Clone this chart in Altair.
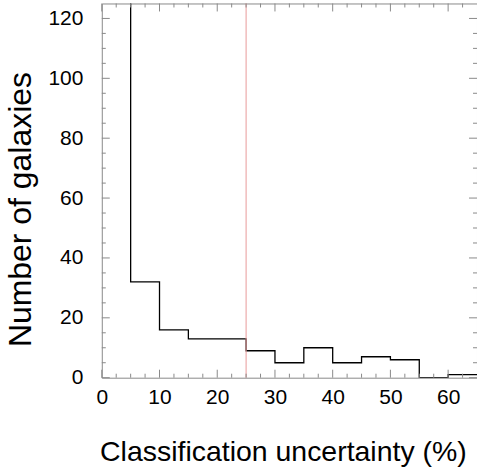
import altair as alt
import pandas as pd

# Histogram bin edges and counts (first bin runs off the top of the plot)
bin_edges = [0, 5, 10, 15, 20, 25, 30, 35, 40, 45, 50, 55, 60, 65]
counts = [400, 32, 16, 13, 13, 9, 5, 10, 5, 7, 6, 0, 1]
cut_value = [25]

x_major = [0, 10, 20, 30, 40, 50, 60]
x_minor = [2.5, 5, 7.5, 12.5, 15, 17.5, 22.5, 25, 27.5, 32.5, 35, 37.5,
           42.5, 45, 47.5, 52.5, 55, 57.5, 62.5]
y_major = [0, 20, 40, 60, 80, 100, 120]
y_minor = [5, 10, 15, 25, 30, 35, 45, 50, 55, 65, 70, 75, 85, 90, 95,
           105, 110, 115]

W, H = 376, 375
FONT = "Liberation Sans"
FRAME = "#8a8a8a"

step_df = pd.DataFrame({"x": bin_edges, "y": counts + [counts[-1]]})

xs = alt.Scale(domain=[0, 65], nice=False, zero=False)
ys = alt.Scale(domain=[0, 125], nice=False, zero=False)

x_axis = alt.Axis(values=x_major, grid=False, ticks=False, tickSize=0, domain=False,
                  labelFont=FONT, labelFontSize=21, labelColor="black",
                  labelPadding=9, labelFlush=False, labelAngle=0,
                  title="Classification uncertainty (%)", titleFont=FONT,
                  titleFontSize=28.5, titleFontWeight="normal", titleColor="black",
                  titleX=181.5, titleY=83, titleAlign="center",
                  titleBaseline="alphabetic")
y_axis = alt.Axis(values=y_major, grid=False, ticks=False, tickSize=0, domain=False,
                  labelFont=FONT, labelFontSize=21, labelColor="black",
                  labelPadding=19, labelFlush=False,
                  title="Number of galaxies", titleFont=FONT,
                  titleFontSize=32, titleFontWeight="normal", titleColor="black",
                  titleAngle=-90, titleX=-71, titleY=206, titleAlign="center",
                  titleBaseline="alphabetic")

step = alt.Chart(step_df).mark_line(
    interpolate="step-after", color="black", strokeWidth=1.3, clip=True
).encode(
    x=alt.X("x:Q", scale=xs, axis=x_axis),
    y=alt.Y("y:Q", scale=ys, axis=y_axis),
)

cut = alt.Chart(pd.DataFrame({"x": cut_value})).mark_rule(
    color="#e89a9a", strokeWidth=1
).encode(x=alt.X("x:Q", scale=xs), y=alt.value(0), y2=alt.value(H))


def xticks(vals, length):
    d = pd.DataFrame({"x": vals})
    bot = alt.Chart(d).mark_rule(color=FRAME, strokeWidth=1).encode(
        x=alt.X("x:Q", scale=xs), y=alt.value(H), y2=alt.value(H - length))
    top = alt.Chart(d).mark_rule(color=FRAME, strokeWidth=1).encode(
        x=alt.X("x:Q", scale=xs), y=alt.value(0), y2=alt.value(length))
    return [bot, top]


def yticks(vals, length):
    d = pd.DataFrame({"y": vals})
    left = alt.Chart(d).mark_rule(color=FRAME, strokeWidth=1).encode(
        y=alt.Y("y:Q", scale=ys), x=alt.value(0), x2=alt.value(length))
    right = alt.Chart(d).mark_rule(color=FRAME, strokeWidth=1).encode(
        y=alt.Y("y:Q", scale=ys), x=alt.value(W), x2=alt.value(W - length))
    return [left, right]


layers = [step, cut] + xticks(x_major, 8) + xticks(x_minor, 4) + \
    yticks(y_major, 8) + yticks(y_minor, 4)

chart = alt.layer(*layers).properties(
    width=W, height=H, background="white",
    autosize=alt.AutoSizeParams(type="none"),
    padding={"left": 102, "top": 3, "right": 0, "bottom": 89},
).configure_view(
    stroke=FRAME, strokeWidth=1
).configure_axis(
    labelFont=FONT, labelFontSize=21, labelColor="black",
    titleFont=FONT, titleFontWeight="normal", titleColor="black",
)

chart.save("out.html", embed_options={"renderer": "svg", "actions": False})
